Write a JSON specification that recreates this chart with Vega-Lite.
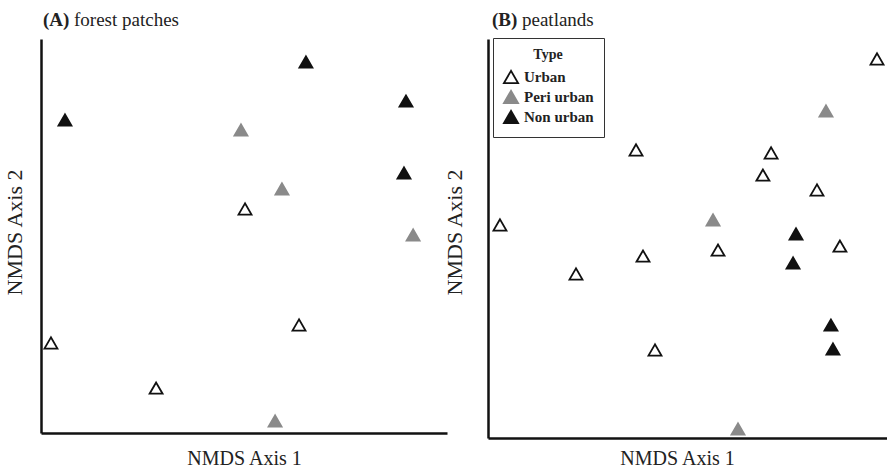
{
  "$schema": "https://vega.github.io/schema/vega-lite/v6.json",
  "background": "white",
  "padding": {"left": 3, "top": 11, "right": 0, "bottom": 0},
  "spacing": -4,
  "config": {
    "font": "Liberation Serif",
    "view": {"stroke": null},
    "axis": {"grid": false, "ticks": false, "labels": false, "domainColor": "#111", "domainWidth": 2.5, "titleFont": "Liberation Serif", "titleFontWeight": "normal", "titleColor": "#222"},
    "axisX": {"titleFontSize": 20},
    "axisY": {"titleFontSize": 22},
    "legend": {"strokeColor": "#333", "padding": 10, "titleFont": "Liberation Serif", "titleFontSize": 14, "titleFontWeight": "bold", "titleColor": "#222", "titleAnchor": "middle", "titlePadding": 7, "labelFont": "Liberation Serif", "labelFontSize": 15, "labelFontWeight": "bold", "labelColor": "#222", "symbolSize": 200, "symbolStrokeWidth": 1.8, "rowPadding": 0, "labelOffset": 5, "fillColor": "white"}
  },
  "datasets": {
    "forest": [
      {"Type": "Urban", "x": -0.951, "y": -0.543},
      {"Type": "Urban", "x": -0.433, "y": -0.772},
      {"Type": "Urban", "x": 0.005, "y": 0.137},
      {"Type": "Urban", "x": 0.271, "y": -0.452},
      {"Type": "Peri urban", "x": -0.015, "y": 0.538},
      {"Type": "Peri urban", "x": 0.187, "y": 0.239},
      {"Type": "Peri urban", "x": 0.833, "y": 0.005},
      {"Type": "Peri urban", "x": 0.153, "y": -0.939},
      {"Type": "Non urban", "x": -0.882, "y": 0.589},
      {"Type": "Non urban", "x": 0.305, "y": 0.883},
      {"Type": "Non urban", "x": 0.798, "y": 0.685},
      {"Type": "Non urban", "x": 0.788, "y": 0.320}
    ],
    "peat": [
      {"Type": "Urban", "x": 0.950, "y": 0.900},
      {"Type": "Urban", "x": -0.258, "y": 0.444},
      {"Type": "Urban", "x": 0.419, "y": 0.429},
      {"Type": "Urban", "x": 0.378, "y": 0.318},
      {"Type": "Urban", "x": 0.649, "y": 0.243},
      {"Type": "Urban", "x": -0.940, "y": 0.068},
      {"Type": "Urban", "x": 0.764, "y": -0.038},
      {"Type": "Urban", "x": 0.153, "y": -0.058},
      {"Type": "Urban", "x": -0.223, "y": -0.088},
      {"Type": "Urban", "x": -0.559, "y": -0.178},
      {"Type": "Urban", "x": -0.163, "y": -0.559},
      {"Type": "Peri urban", "x": 0.694, "y": 0.639},
      {"Type": "Peri urban", "x": 0.128, "y": 0.093},
      {"Type": "Peri urban", "x": 0.253, "y": -0.955},
      {"Type": "Non urban", "x": 0.544, "y": 0.023},
      {"Type": "Non urban", "x": 0.529, "y": -0.123},
      {"Type": "Non urban", "x": 0.719, "y": -0.434},
      {"Type": "Non urban", "x": 0.729, "y": -0.554}
    ]
  },
  "hconcat": [
    {
      "width": 406,
      "height": 394,
      "data": {"name": "forest"},
      "layer": [
        {
          "mark": {"type": "point", "shape": "triangle-up", "size": 169, "strokeWidth": 1.8, "opacity": 1, "fillOpacity": 1, "strokeOpacity": 1},
          "encoding": {
            "x": {"field": "x", "type": "quantitative", "scale": {"domain": [-1, 1], "nice": false, "zero": false}, "axis": {"title": "NMDS Axis 1", "titlePadding": 15}},
            "y": {"field": "y", "type": "quantitative", "scale": {"domain": [-1, 1], "nice": false, "zero": false}, "axis": {"title": "NMDS Axis 2", "titlePadding": 15, "titleY": 193}},
            "fill": {"field": "Type", "type": "nominal", "scale": {"domain": ["Urban", "Peri urban", "Non urban"], "range": ["white", "#8a8a8a", "#111111"]}, "legend": null},
            "stroke": {"field": "Type", "type": "nominal", "scale": {"domain": ["Urban", "Peri urban", "Non urban"], "range": ["#111111", "#8a8a8a", "#111111"]}, "legend": null}
          }
        },
        {
          "data": {"values": [{"label": "(A)"}]},
          "mark": {"type": "text", "font": "Liberation Serif", "fontSize": 19, "fontWeight": "bold", "color": "#222", "align": "left", "baseline": "alphabetic", "dx": 2, "dy": -13},
          "encoding": {
            "text": {"field": "label"},
            "x": {"datum": -1, "type": "quantitative"},
            "y": {"datum": 1, "type": "quantitative"}
          }
        },
        {
          "data": {"values": [{"label": "forest patches"}]},
          "mark": {"type": "text", "font": "Liberation Serif", "fontSize": 19, "fontWeight": "normal", "color": "#222", "align": "left", "baseline": "alphabetic", "dx": 33, "dy": -13},
          "encoding": {
            "text": {"field": "label"},
            "x": {"datum": -1, "type": "quantitative"},
            "y": {"datum": 1, "type": "quantitative"}
          }
        }
      ]
    },
    {
      "width": 399,
      "height": 399,
      "data": {"name": "peat"},
      "layer": [
        {
          "mark": {"type": "point", "shape": "triangle-up", "size": 169, "strokeWidth": 1.8, "opacity": 1, "fillOpacity": 1, "strokeOpacity": 1},
          "encoding": {
            "x": {"field": "x", "type": "quantitative", "scale": {"domain": [-1, 1], "nice": false, "zero": false}, "axis": {"title": "NMDS Axis 1", "titlePadding": 10, "titleX": 189}},
            "y": {"field": "y", "type": "quantitative", "scale": {"domain": [-1, 1], "nice": false, "zero": false}, "axis": {"title": "NMDS Axis 2", "titlePadding": 22, "titleY": 193}},
            "fill": {"field": "Type", "type": "nominal", "title": "Type", "scale": {"domain": ["Urban", "Peri urban", "Non urban"], "range": ["white", "#8a8a8a", "#111111"]}, "legend": {"orient": "none", "legendX": 5, "legendY": -1}},
            "stroke": {"field": "Type", "type": "nominal", "title": "Type", "scale": {"domain": ["Urban", "Peri urban", "Non urban"], "range": ["#111111", "#8a8a8a", "#111111"]}, "legend": {"orient": "none", "legendX": 5, "legendY": -1}}
          }
        },
        {
          "data": {"values": [{"label": "(B)"}]},
          "mark": {"type": "text", "font": "Liberation Serif", "fontSize": 19, "fontWeight": "bold", "color": "#222", "align": "left", "baseline": "alphabetic", "dx": 4, "dy": -13},
          "encoding": {
            "text": {"field": "label"},
            "x": {"datum": -1, "type": "quantitative"},
            "y": {"datum": 1, "type": "quantitative"}
          }
        },
        {
          "data": {"values": [{"label": "peatlands"}]},
          "mark": {"type": "text", "font": "Liberation Serif", "fontSize": 19, "fontWeight": "normal", "color": "#222", "align": "left", "baseline": "alphabetic", "dx": 34, "dy": -13},
          "encoding": {
            "text": {"field": "label"},
            "x": {"datum": -1, "type": "quantitative"},
            "y": {"datum": 1, "type": "quantitative"}
          }
        }
      ]
    }
  ],
  "resolve": {"scale": {"fill": "independent", "stroke": "independent"}}
}
